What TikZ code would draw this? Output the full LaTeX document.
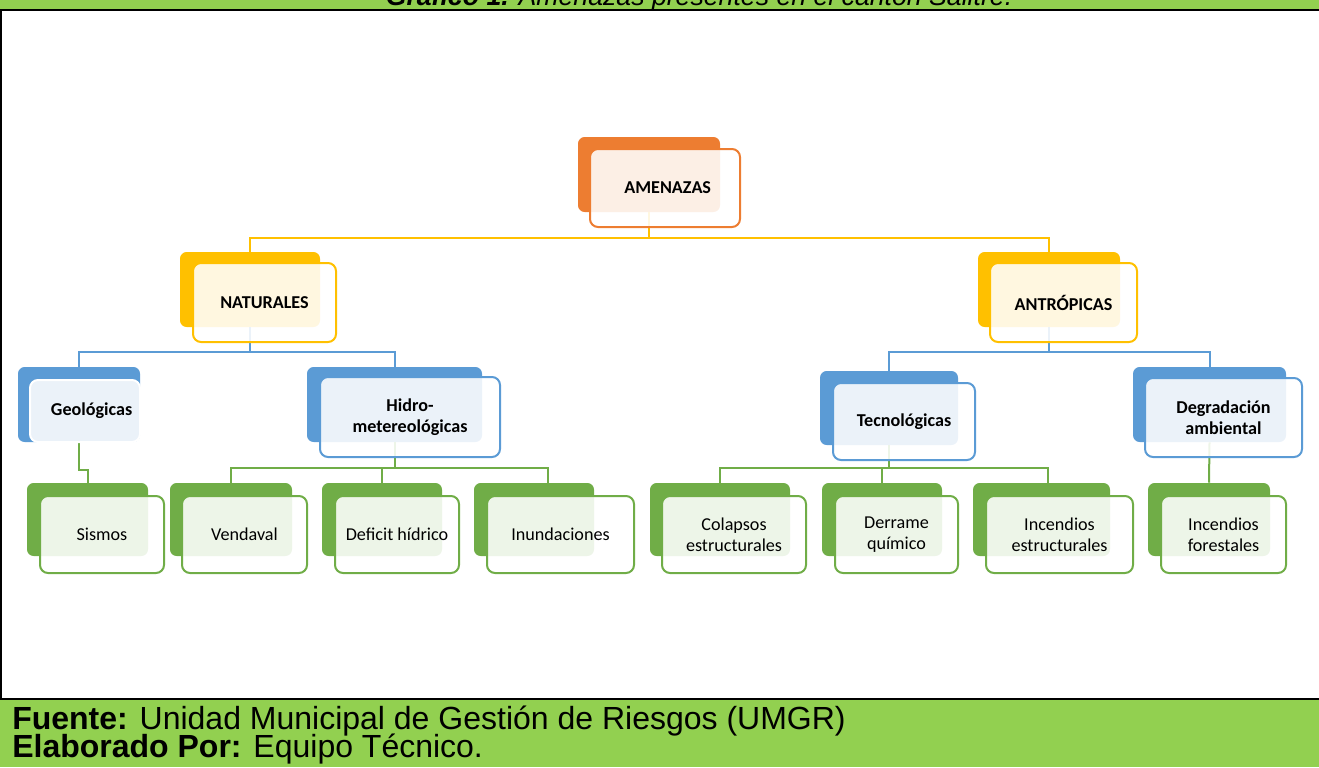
\documentclass[tikz,border=0pt]{standalone}
\usepackage{fontspec}
\setmainfont{Carlito}
\newfontfamily\arialfont{Liberation Sans}
\usetikzlibrary{positioning,calc}
\definecolor{naranja}{HTML}{ED7D31}
\definecolor{amarillo}{HTML}{FFC000}
\definecolor{azul}{HTML}{5B9BD5}
\definecolor{verde}{HTML}{70AD47}
\definecolor{verdeclaro}{HTML}{92D050}
\tikzset{
     back/.style={rectangle, rounded corners=5pt, fill=#1, inner sep=0pt},
     front/.style={rectangle, rounded corners=6pt, draw=#1, line width=1.5pt,
                   fill=white, fill opacity=0.88, text opacity=1, align=center, inner sep=0pt},
     caja/.style 2 args={minimum width=#1*0.75pt, minimum height=#2*0.75pt},
     rama/.style={draw=#1, line width=1.5pt}
     }
\tikzstyle{grande} = [font=\fontsize{13.6}{16}\selectfont\bfseries]
\tikzstyle{chico} = [font=\fontsize{13.6}{16}\selectfont]
\tikzstyle{pie} = [anchor=base west, inner sep=0pt, font=\arialfont\fontsize{24}{28}\selectfont]

\begin{document}
\begin{tikzpicture}[x=0.75pt, y=-0.75pt]
    \useasboundingbox (0,0) rectangle (1319,767);
    \clip (0,0) rectangle (1319,767);
    % marco
    \fill [verdeclaro] (0,0) rectangle (1319,10);
    \fill [verdeclaro] (0,699) rectangle (1319,767);
    \draw [line width=1.5pt] (0,10.5) -- (1319,10.5);
    \draw [line width=1.5pt] (0,698.5) -- (1319,698.5);
    \draw [line width=1.5pt] (1,10) -- (1,699);
    \node [anchor=base, inner sep=0pt, font=\arialfont\fontsize{20}{24}\selectfont\itshape] (titulo) at (699,6)
          {\textbf{Gráfico 1.} Amenazas presentes en el cantón Salitre.};
    \node [pie] (fuente) at (12,729) {\textbf{Fuente:} Unidad Municipal de Gestión de Riesgos (UMGR)};
    \node [pie] (elab) at (12,757) {\textbf{Elaborado Por:} Equipo Técnico.};

    % cajas de fondo
    \node [back=naranja, caja={142}{75}] (amenB) at (649,174.5) {};
    \node [back=amarillo, caja={140}{75}] (natB) at (250,289.5) {};
    \node [back=amarillo, caja={142}{75}] (antB) at (1049,289.5) {};
    \node [back=azul, caja={122}{75}] (geoB) at (79,404.5) {};
    \node [back=azul, caja={175}{75}] (hidB) at (394.5,404.5) {};
    \node [back=azul, caja={138}{74}] (tecB) at (889,408) {};
    \node [back=azul, caja={153}{75}] (degB) at (1209.5,404.5) {};
    \node [back=verde, caja={121}{73}] (sisB) at (87.5,519.5) {};
    \node [back=verde, caja={122}{73}] (venB) at (231,519.5) {};
    \node [back=verde, caja={120}{73}] (defB) at (382,519.5) {};
    \node [back=verde, caja={120}{73}] (inuB) at (534,519.5) {};
    \node [back=verde, caja={140}{73}] (colB) at (720,519.5) {};
    \node [back=verde, caja={120}{73}] (derB) at (882,519.5) {};
    \node [back=verde, caja={137}{73}] (ineB) at (1041.5,519.5) {};
    \node [back=verde, caja={122}{73}] (infB) at (1209,519.5) {};

    % ramas
    \draw [rama=amarillo] (amenB.south) -- (amenB.south |- 0,238) -| (natB.north);
    \draw [rama=amarillo] (amenB.south) -- (amenB.south |- 0,238) -| (antB.north);
    \draw [rama=azul] (natB.south) -- (natB.south |- 0,352) -| (geoB.north);
    \draw [rama=azul] (natB.south) -- (natB.south |- 0,352) -| (hidB.north);
    \draw [rama=azul] (antB.south) -- (antB.south |- 0,352) -| (tecB.north);
    \draw [rama=azul] (antB.south) -- (antB.south |- 0,352) -| (degB.north);
    \draw [rama=verde] (geoB.south) -- (geoB.south |- 0,470) -| (sisB.north);
    \draw [rama=verde] (hidB.south) -- (hidB.south |- 0,468) -| (venB.north);
    \draw [rama=verde] (hidB.south) -- (hidB.south |- 0,468) -| (defB.north);
    \draw [rama=verde] (hidB.south) -- (hidB.south |- 0,468) -| ([xshift=14*0.75pt]inuB.north);
    \draw [rama=verde] (tecB.south) -- (tecB.south |- 0,468) -| (colB.north);
    \draw [rama=verde] (tecB.south) -- (tecB.south |- 0,468) -| (derB.north);
    \draw [rama=verde] (tecB.south) -- (tecB.south |- 0,468) -| ([xshift=6*0.75pt]ineB.north);
    \draw [rama=verde] (degB.south) -- (infB.north);

    % cajas de frente
    \node [front=naranja, caja={150}{78}, grande] (amen) at (665,188) {\hspace*{4pt}AMENAZAS};
    \node [front=amarillo, caja={143}{79}, grande] (nat) at (264.5,302.5) {NATURALES};
    \node [front=amarillo, caja={147}{79}, grande] (ant) at (1063.5,302.5) {ANTRÓPICAS};
    \node [front=white, caja={110}{62}, grande] (geo) at (85,411) {\hspace*{10pt}Geológicas};
    \node [front=azul, caja={180}{80}, grande] (hid) at (410,417) {Hidro-\\metereológicas};
    \node [front=azul, caja={142}{77}, grande] (tec) at (904,421.5) {Tecnológicas};
    \node [front=azul, caja={157}{79}, grande] (deg) at (1223.5,417.5) {Degradación\\ambiental};
    \node [front=verde, caja={124}{77}, chico] (sis) at (102,534.5) {Sismos};
    \node [front=verde, caja={125}{77}, chico] (ven) at (244.5,534.5) {Vendaval};
    \node [front=verde, caja={124}{77}, chico] (def) at (397,534.5) {Deficit hídrico};
    \node [front=verde, caja={147}{77}, chico] (inu) at (560.5,534.5) {Inundaciones};
    \node [front=verde, caja={144}{77}, chico] (col) at (734,534.5) {Colapsos\\estructurales};
    \node [front=verde, caja={123}{77}, chico] (der) at (896.5,534.5) {Derrame\\químico};
    \node [front=verde, caja={147}{77}, chico] (ine) at (1059.5,534.5) {Incendios\\estructurales};
    \node [front=verde, caja={125}{77}, chico] (inf) at (1223.5,534.5) {Incendios\\forestales};
\end{tikzpicture}
\end{document}
